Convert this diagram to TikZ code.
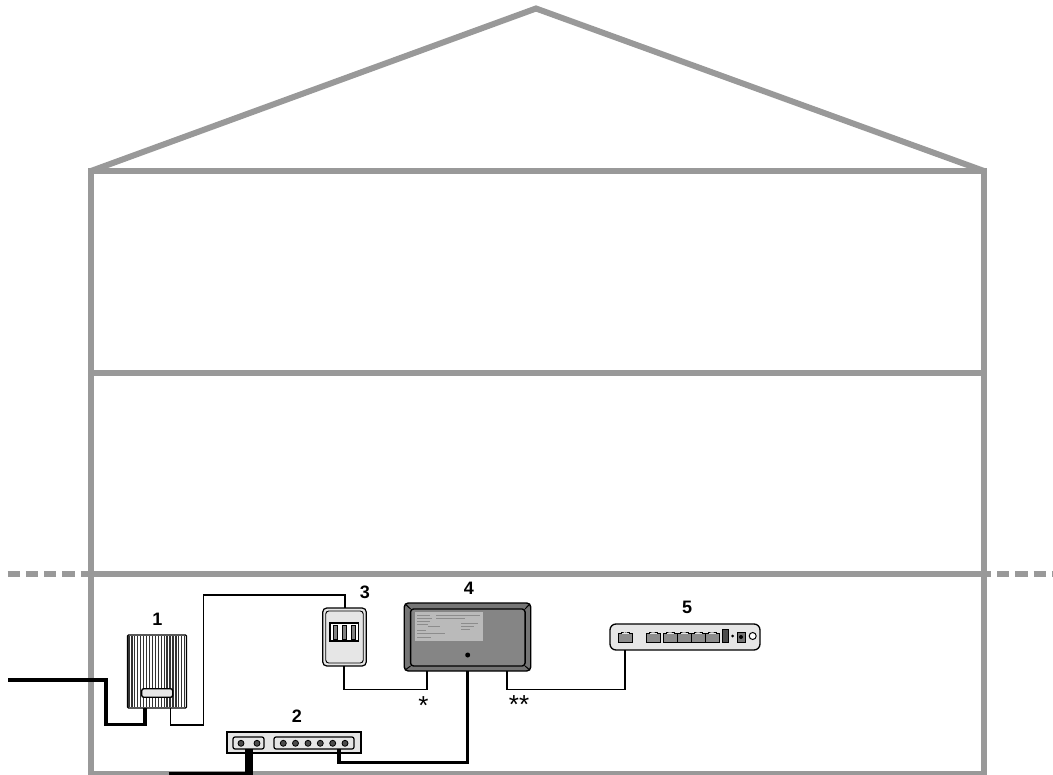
\documentclass[tikz,border=0pt]{standalone}
\usepackage{fontspec}
\setmainfont{Liberation Sans}
\usetikzlibrary{calc}
\definecolor{wall}{HTML}{999999}
\definecolor{panel}{HTML}{E6E6E6}
\definecolor{dark}{HTML}{757575}
\definecolor{mid}{HTML}{858585}
\tikzset{
  wallline/.style={draw=wall,line width=6pt,line join=miter},
  grounddash/.style={draw=wall,line width=5.6pt,dash pattern=on 12.3pt off 6pt},
  thincable/.style={draw=black,line width=1.9pt,line join=miter},
  thickcable/.style={draw=black,line width=3.3pt,line join=miter},
  box/.style={rectangle,inner sep=0pt,outer sep=0pt,draw=black,line width=1.2pt},
  label/.style={font=\fontsize{18}{18}\selectfont\bfseries,inner sep=0pt},
  starlabel/.style={font=\fontsize{26}{26}\selectfont,inner sep=0pt},
  jack/.style={draw=black,fill=black!45,line width=.9pt},
  socket/.style={circle,draw=black,fill=black!70,line width=.8pt,minimum size=6pt,inner sep=0pt},
  labelmark/.style={draw=black!45,line width=.8pt},
}
\begin{document}
\begin{tikzpicture}[x=1pt,y=-1pt]
\useasboundingbox (0,0) rectangle (1053,775);
% house
\coordinate (apex) at (536,8.5);
\coordinate (el) at (91,171);
\coordinate (er) at (984,171);
\coordinate (bl) at (91,773.5);
\coordinate (br) at (984,773.5);
\draw[wallline] (el) -- (apex) -- (er);
\draw[wallline] (bl) -- (el) -- (er) -- (br) -- cycle;
\coordinate (fl1) at (91,373); \coordinate (fr1) at (984,373);
\coordinate (fl2) at (91,574); \coordinate (fr2) at (984,574);
\draw[wallline] (fl1) -- (fr1);
\draw[wallline] (fl2) -- (fr2);
\coordinate (gl) at (7.5,574); \coordinate (gr) at (997,574); \coordinate (gre) at (1053,574);
\draw[grounddash] (gl) -- (fl2);
\draw[wallline] (fr2) -- (990.7,574);
\draw[grounddash] (gr) -- (gre);

% device 1
\node[box,fill=white,rounded corners=1pt,minimum width=59pt,minimum height=73pt] (d1) at (157,671.5) {};
\foreach \i in {0,...,19}{\draw[black!80,line width=1.25pt] (129+\i*2.93,636) -- (129+\i*2.93,707);}
\node[box,fill=panel,rounded corners=2pt,line width=1.4pt,minimum width=31pt,minimum height=8.5pt] (d1slot) at (157.2,693) {};

% device 3
\node[box,fill=panel,rounded corners=4pt,minimum width=43.5pt,minimum height=58pt] (d3) at (344.5,637) {};
\node[rectangle,draw=black,line width=.9pt,rounded corners=3pt,minimum width=37.5pt,minimum height=52pt,inner sep=0pt] (d3in) at (344.5,637) {};
\node[box,fill=white,minimum width=28.5pt,minimum height=18pt] (d3win) at (344.3,632) {};
\foreach \x in {335.5,344.5,353.5}{\draw[draw=black,fill=black!50,line width=.8pt] (\x-2.3,625) rectangle (\x+2.3,639);}

% device 4
\node[box,fill=dark,rounded corners=4pt,line width=1.4pt,minimum width=126.5pt,minimum height=68pt] (d4) at (467.5,637) {};
\node[box,fill=mid,rounded corners=3pt,line width=1.4pt,minimum width=114.5pt,minimum height=57pt] (d4in) at (467.8,637.5) {};
\draw[black,line width=1pt] (d4.north west) ++(1,1) -- (d4in.north west);
\draw[black,line width=1pt] (d4.north east) ++(-1,1) -- (d4in.north east);
\draw[black,line width=1pt] (d4.south west) ++(1,-1) -- (d4in.south west);
\draw[black,line width=1pt] (d4.south east) ++(-1,-1) -- (d4in.south east);
\node[rectangle,fill=black!27,inner sep=0pt,minimum width=68pt,minimum height=29pt] (d4lab) at (449,626.5) {};
\draw[labelmark] (417,615) -- (430,615) (436,615) -- (480,615) (417,618) -- (432,618) (436,618) -- (465,618)
  (417,621) -- (430,621) (417,624) -- (428,624) (428,626) -- (440,626) (461,623) -- (478,623) (461,626) -- (474,626) (461,629) -- (470,629)
  (417,630) -- (426,630) (417,633) -- (445,633) (417,637) -- (431,637);
\node[circle,fill=black,minimum size=5pt,inner sep=0pt] (d4dot) at (467.7,655) {};

% device 5
\node[box,fill=panel,rounded corners=6pt,line width=1.3pt,minimum width=150pt,minimum height=26pt] (d5) at (685,637) {};
\foreach \a/\b in {618.5/632,646/660,663/677,677/691,691/705,705/719}{
  \draw[jack] (\a,633) rectangle (\b,642);
  \draw[black,line width=.6pt,fill=panel] (\a+3,633) -- (\a+3,632.5) -- (\b-3,632.5) -- (\b-3,633);
  \draw[panel,line width=.7pt] ({(\a+\b)/2-2},633.4) -- ({(\a+\b)/2},631.8) -- ({(\a+\b)/2+2},633.4);
}
\draw[draw=black,fill=black!70,line width=.9pt] (722.5,629.5) rectangle (728,642);
\fill[black] (732.5,636) circle (1.5pt);
\draw[draw=black,fill=black!55,line width=.9pt] (737,632.5) rectangle (745,642);
\fill[black] (741,637) circle (2pt);
\node[circle,draw=black,fill=white,line width=1pt,minimum size=7pt,inner sep=0pt] (d5led) at (752.7,636) {};

% device 2
\node[box,fill=panel,minimum width=134pt,minimum height=21pt] (d2) at (294,742.5) {};
\node[box,fill=panel,rounded corners=2pt,minimum width=31pt,minimum height=12pt] (d2a) at (248.5,743) {};
\node[box,fill=panel,rounded corners=2pt,minimum width=80pt,minimum height=12pt] (d2b) at (314,743) {};
\foreach \n/\x in {a/241,b/257,c/283.3,d/295.5,e/308,f/320.3,g/332.7,h/345}{\node[socket] (s\n) at (\x,743.3) {};}

% connectors
\coordinate (tl) at (8,680);
\coordinate (t1) at (106,680);
\coordinate (t2) at (106,724.6);
\coordinate (t3) at (145,724.6);
\coordinate (t4) at (145,708);
\draw[thickcable] (tl) -- (t1) -- (t2) -- (t3) -- (t4);
\coordinate (a1) at (170.5,708);
\coordinate (a2) at (170.5,724.6);
\coordinate (a3) at (203.5,724.6);
\coordinate (a4) at (203.5,594.7);
\coordinate (a5) at (345,594.7);
\draw[thincable] (a1) -- (a2) -- (a3) -- (a4) -- (a5) -- (a5 |- d3.north);
\coordinate (b1) at (344,689.5);
\coordinate (b2) at (427.3,689.5);
\draw[thincable] (b1 |- d3.south) -- (b1) -- (b2) -- (b2 |- d4.south);
\coordinate (c1) at (506.7,689.5);
\coordinate (c2) at (625,689.5);
\draw[thincable] (c1 |- d4.south) -- (c1) -- (c2) -- (c2 |- d5.south);
\coordinate (e1) at (339,762.7);
\coordinate (e2) at (467.7,762.7);
\draw[thickcable] (e1 |- d2b.south) -- (e1) -- (e2) -- (e2 |- d4.south);
\coordinate (f1) at (249,775);
\draw[draw=black,line width=8pt] (249,749) -- (f1);
\coordinate (g1) at (168.5,773.5);
\coordinate (g2) at (249,773.5);
\draw[thickcable] (g1) -- (g2);

% labels
\node[label] (l1) at (157.5,619.5) {1};
\node[label] (l2) at (297,716) {2};
\node[label] (l3) at (365,592.5) {3};
\node[label] (l4) at (469,588.5) {4};
\node[label] (l5) at (687,607.5) {5};
\node[starlabel,anchor=base] (s1) at (423.5,714.5) {*};
\node[starlabel,anchor=base] (s2) at (519,713.5) {**};
\end{tikzpicture}
\end{document}
